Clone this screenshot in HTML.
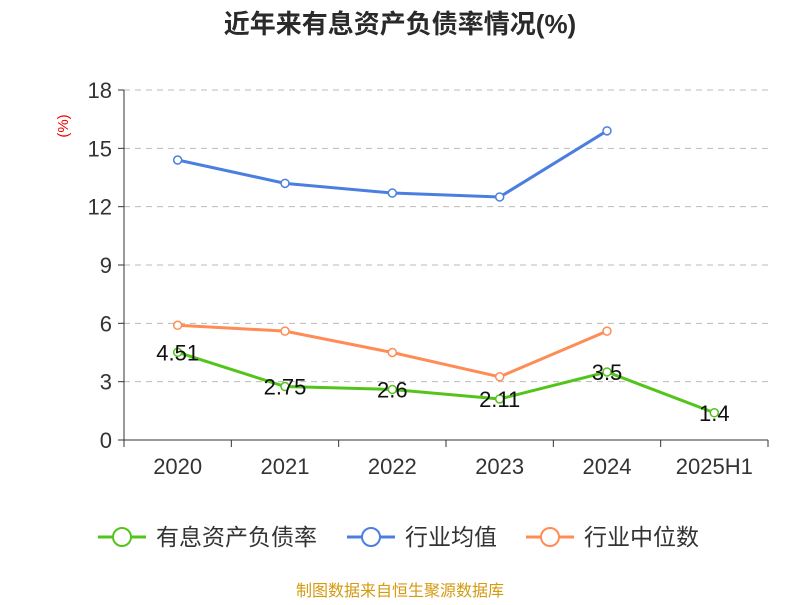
<!DOCTYPE html>
<html><head><meta charset="utf-8"><style>
body{margin:0;background:#fff;}
svg text{font-family:"Liberation Sans","Noto Sans CJK SC",sans-serif;}
</style></head><body>
<svg id="c" width="800" height="600" xmlns="http://www.w3.org/2000/svg">
<text x="400" y="33" text-anchor="middle" font-size="26" font-weight="bold" fill="#2a2a2a">近年来有息资产负债率情况(%)</text>
<text transform="translate(68,126) rotate(-90)" text-anchor="middle" font-size="15" fill="#e00">(%)</text>
<g id="grid"></g><g id="axes"></g><g id="series"></g>
<g>
<g><line x1="98" y1="537" x2="146" y2="537" stroke="#52c41a" stroke-width="3"/><circle cx="122" cy="537" r="9" fill="#fff" stroke="#52c41a" stroke-width="2"/><text x="156" y="545" font-size="23" fill="#333">有息资产负债率</text></g>
<g><line x1="347" y1="537" x2="395" y2="537" stroke="#4a7fe0" stroke-width="3"/><circle cx="371" cy="537" r="9" fill="#fff" stroke="#4a7fe0" stroke-width="2"/><text x="405" y="545" font-size="23" fill="#333">行业均值</text></g>
<g><line x1="526" y1="537" x2="574" y2="537" stroke="#ff8c55" stroke-width="3"/><circle cx="550" cy="537" r="9" fill="#fff" stroke="#ff8c55" stroke-width="2"/><text x="584" y="545" font-size="23" fill="#333">行业中位数</text></g>
</g>
<text x="400" y="596" text-anchor="middle" font-size="16" fill="#d49a10">制图数据来自恒生聚源数据库</text>
</svg>
<script>
const categories=["2020","2021","2022","2023","2024","2025H1"];
const debtRatio=[4.51,2.75,2.6,2.11,3.5,1.4];
const debtLabels=["4.51","2.75","2.6","2.11","3.5","1.4"];
const industryAvg=[14.4,13.2,12.7,12.5,15.9,null];
const industryMedian=[5.9,5.6,4.5,3.25,5.6,null];
const yTicks=[0,3,6,9,12,15,18];
const NS="http://www.w3.org/2000/svg";
const x0=124,x1=768,yb=440,yt=90,ymax=18;
const bw=(x1-x0)/categories.length;
const X=i=>x0+bw*(i+0.5);
const Y=v=>yb-(v/ymax)*(yb-yt);
function mk(t,a,p){const e=document.createElementNS(NS,t);for(const k in a)e.setAttribute(k,a[k]);p.appendChild(e);return e;}
const grid=document.getElementById('grid'),axes=document.getElementById('axes'),ser=document.getElementById('series');
yTicks.forEach(v=>{
 if(v>0){const l=mk('line',{x1:x0,x2:x1,y1:Y(v),y2:Y(v),stroke:'#bbb','stroke-dasharray':'6,5'},grid);
 }
 const tk=mk('line',{x1:x0-6,x2:x0,y1:Y(v),y2:Y(v),stroke:'#333'},axes);
 
 const t=mk('text',{x:x0-12,y:Y(v)+8,'text-anchor':'end','font-size':22,fill:'#333'},axes);t.textContent=v;
 
});
const ya=mk('line',{x1:x0,x2:x0,y1:yt,y2:yb,stroke:'#333'},axes);

const xa=mk('line',{x1:x0,x2:x1,y1:yb,y2:yb,stroke:'#333'},axes);

for(let i=0;i<=categories.length;i++){const tk=mk('line',{x1:x0+bw*i,x2:x0+bw*i,y1:yb,y2:yb+7,stroke:'#333'},axes);
 }
categories.forEach((c,i)=>{const t=mk('text',{x:X(i),y:yb+34,'text-anchor':'middle','font-size':22,fill:'#333'},axes);t.textContent=c;
 });
function series(vals,color,name){
 const g=mk('g',{},ser);
 const pts=[];vals.forEach((v,i)=>{if(v!=null)pts.push([X(i),Y(v)]);});
 const pl=mk('polyline',{points:pts.map(p=>p.join(',')).join(' '),fill:'none',stroke:color,'stroke-width':3},g);
 
 pts.forEach(p=>{const c=mk('circle',{cx:p[0],cy:p[1],r:4,fill:'#fff',stroke:color,'stroke-width':1.5},g);
  });
}
series(industryAvg,'#4a7fe0','industry-avg');
series(industryMedian,'#ff8c55','industry-median');
series(debtRatio,'#52c41a','debt-ratio');
debtRatio.forEach((v,i)=>{const t=mk('text',{x:X(i),y:Y(v)+8,'text-anchor':'middle','font-size':22,fill:'#111'},ser);t.textContent=debtLabels[i];
 });
</script>
</body></html>
